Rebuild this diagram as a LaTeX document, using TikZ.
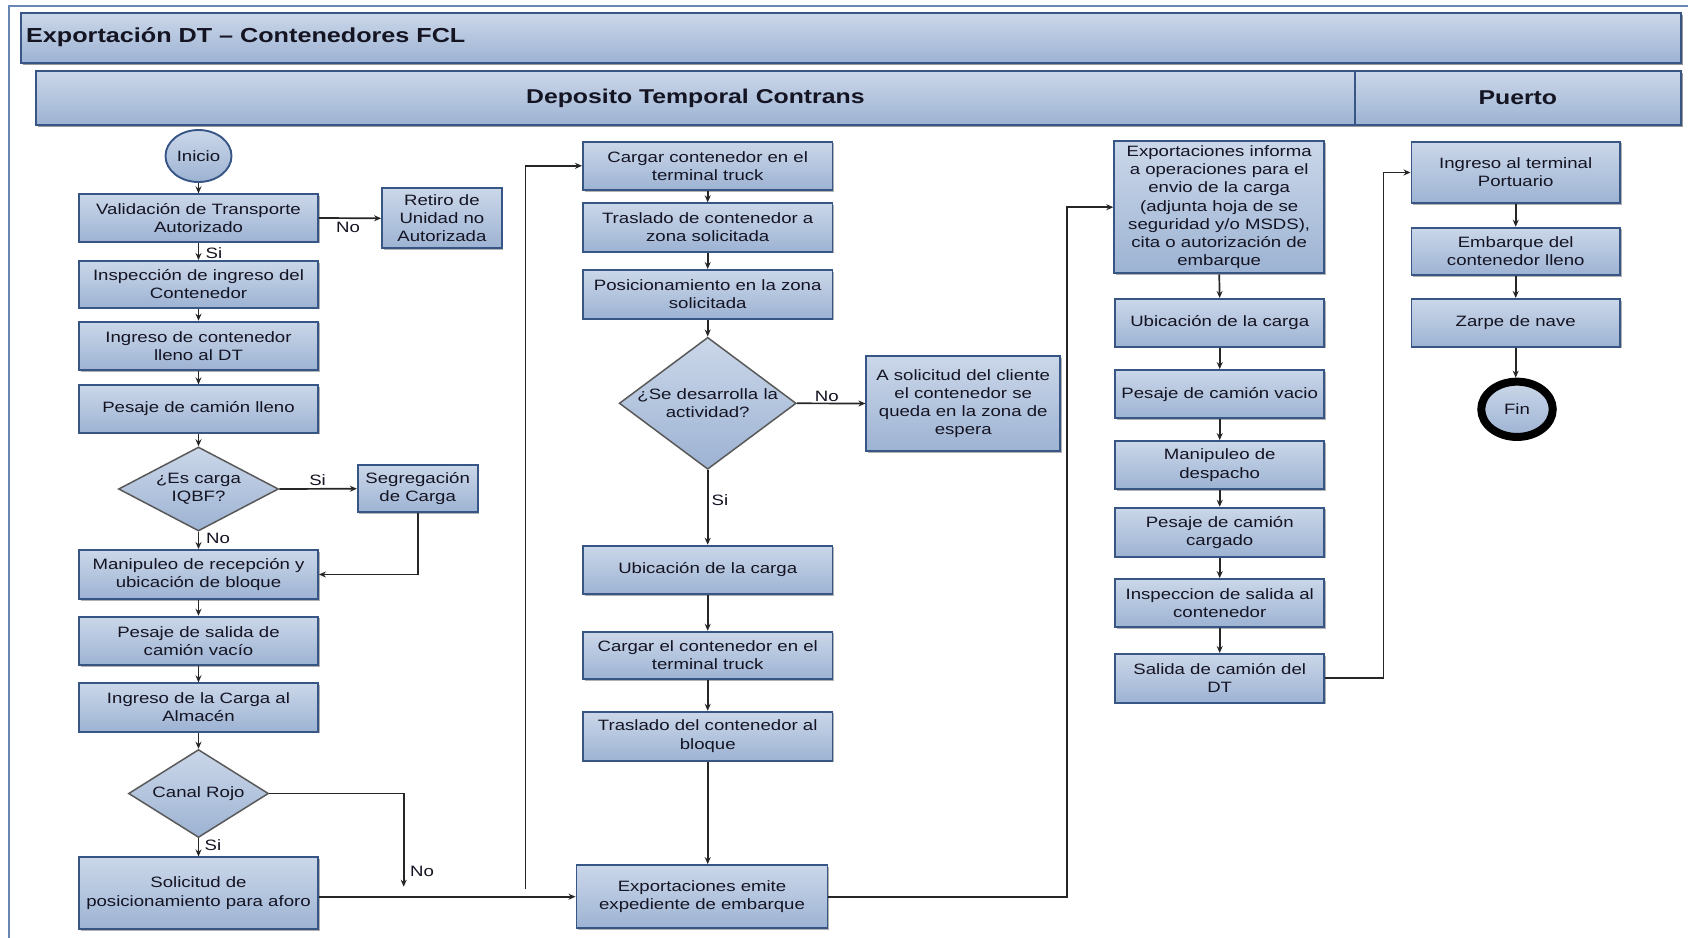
\documentclass[tikz,border=0pt]{standalone}
\usepackage{fontspec}
\setmainfont{Liberation Sans}[FakeStretch=1.24]
\usetikzlibrary{shapes.geometric,arrows.meta,shadows,calc}

\definecolor{boxtop}{RGB}{203,215,233}
\definecolor{boxbot}{RGB}{157,179,211}
\definecolor{boxline}{RGB}{55,86,134}
\definecolor{frameline}{RGB}{105,135,180}
\definecolor{ink}{RGB}{20,20,35}

\tikzset{
  shadebox/.style={top color=boxtop, bottom color=boxbot, draw=boxline, line width=1.9pt},
  bodyfont/.style={font=\fontsize{15}{18.2}\selectfont, text=ink},
  proc/.style={shadebox, rectangle, inner sep=2pt, align=center, bodyfont,
    drop shadow={shadow xshift=1.6pt, shadow yshift=-1.6pt, fill=black, opacity=0.3}},
  band/.style={shadebox, rectangle, line width=2pt, inner sep=0pt,
    font=\bfseries\fontsize{20}{24}\selectfont, text=ink,
    drop shadow={shadow xshift=1.8pt, shadow yshift=-1.8pt, fill=black, opacity=0.4}},
  decision/.style={shadebox, diamond, inner sep=0pt, line width=1.5pt, draw=black!65},
  terminal/.style={shadebox, ellipse, inner sep=0pt, bodyfont},
  flow/.style={draw=black!85, line width=1.7pt, -{Stealth[length=7pt,width=6pt]}},
  tag/.style={bodyfont, inner sep=0pt},
}

\begin{document}
\begin{tikzpicture}[x=1pt,y=-1pt]
\useasboundingbox (0,0) rectangle (1688,937);
\fill[white] (0,0) rectangle (1688,937);
\draw[frameline, line width=1.4pt] (9,6) rectangle (1720,970);

% title and lane headers
\node[band, minimum width=1660pt, minimum height=49.4pt, anchor=north west] (title) at (20,12.3) {};
\node[anchor=west, inner sep=0pt, font=\bfseries\fontsize{20.3}{24}\selectfont, text=ink] (titletext) at (26,37) {Exportación DT – Contenedores FCL};
\node[band, minimum width=1318.7pt, minimum height=54pt, anchor=north west] (dtlane) at (35,70) {Deposito Temporal Contrans};
\node[band, minimum width=326.3pt, minimum height=54pt, anchor=north west] (portlane) at (1353.7,70) {Puerto};

% column 1
\node[terminal, minimum width=66pt, minimum height=52pt] (inicio) at (198.5,156) {Inicio};
\node[proc, minimum width=239pt, minimum height=47.4pt] (val) at (198.5,218) {Validación de Transporte\\Autorizado};
\node[proc, minimum width=119.7pt, minimum height=60pt] (retiro) at (441.9,218.3) {Retiro de\\Unidad no\\Autorizada};
\node[proc, minimum width=239pt, minimum height=46.7pt] (insp) at (198.5,284.3) {Inspección de ingreso del\\Contenedor};
\node[proc, minimum width=239pt, minimum height=48.3pt] (ingc) at (198.5,345.8) {Ingreso de contenedor\\lleno al DT};
\node[proc, minimum width=239pt, minimum height=47.4pt] (pesl) at (198.5,409) {Pesaje de camión lleno};
\node[decision, minimum width=160pt, minimum height=84pt,
  label={[align=center, bodyfont]center:¿Es carga\\IQBF?}] (iqbf) at (198.5,489) {};
\node[proc, minimum width=119.8pt, minimum height=47.3pt] (seg) at (417.7,488.7) {Segregación\\de Carga};
\node[proc, minimum width=239pt, minimum height=49pt] (manip) at (198.5,574.5) {Manipuleo de recepción y\\ubicación de bloque};
\node[proc, minimum width=239pt, minimum height=48.6pt] (pess) at (198.5,641) {Pesaje de salida de\\camión vacío};
\node[proc, minimum width=239pt, minimum height=48.4pt] (ingal) at (198.5,707.5) {Ingreso de la Carga al\\Almacén};
\node[decision, minimum width=140pt, minimum height=88pt,
  label={[bodyfont]center:Canal Rojo}] (rojo) at (198.5,793.5) {};
\node[proc, minimum width=239pt, minimum height=71.7pt] (sol) at (198.5,893.2) {Solicitud de\\posicionamiento para aforo};

% column 2
\node[proc, minimum width=249.5pt, minimum height=48.3pt] (carg1) at (707.7,165.8) {Cargar contenedor en el\\terminal truck};
\node[proc, minimum width=249.5pt, minimum height=48.4pt] (tras1) at (707.7,227.5) {Traslado de contenedor a\\zona solicitada};
\node[proc, minimum width=249.5pt, minimum height=48.7pt] (pos) at (707.7,294.3) {Posicionamiento en la zona\\solicitada};
\node[decision, minimum width=177pt, minimum height=132pt,
  label={[align=center, bodyfont]center:¿Se desarrolla la\\actividad?}] (activ) at (707.7,403.3) {};
\node[proc, minimum width=193.6pt, minimum height=95pt] (asol) at (963.2,403.5) {A solicitud del cliente\\el contenedor se\\queda en la zona de\\espera};
\node[proc, minimum width=249.5pt, minimum height=48.3pt] (ubic1) at (707.7,569.8) {Ubicación de la carga};
\node[proc, minimum width=249.5pt, minimum height=47.6pt] (carg2) at (707.7,655.5) {Cargar el contenedor en el\\terminal truck};
\node[proc, minimum width=249.5pt, minimum height=49pt] (tras2) at (707.7,736.2) {Traslado del contenedor al\\bloque};
\node[proc, minimum width=251pt, minimum height=63.3pt] (expe) at (702,896.7) {Exportaciones emite\\expediente de embarque};

% column 3
\node[proc, minimum width=210pt, minimum height=132.3pt] (expi) at (1219.2,207.2) {Exportaciones informa\\a operaciones para el\\envio de la carga\\(adjunta hoja de se\\seguridad y/o MSDS),\\cita o autorización de\\embarque};
\node[proc, minimum width=209pt, minimum height=47.7pt] (ubic2) at (1219.7,322.8) {Ubicación de la carga};
\node[proc, minimum width=209pt, minimum height=48.3pt] (pesv) at (1219.7,394.2) {Pesaje de camión vacio};
\node[proc, minimum width=209pt, minimum height=48.3pt] (mand) at (1219.7,465.2) {Manipuleo de\\despacho};
\node[proc, minimum width=209pt, minimum height=49pt] (pesc) at (1219.7,532.2) {Pesaje de camión\\cargado};
\node[proc, minimum width=209pt, minimum height=48.3pt] (insps) at (1219.7,603.2) {Inspeccion de salida al\\contenedor};
\node[proc, minimum width=209pt, minimum height=48.7pt] (sald) at (1219.7,678.3) {Salida de camión del\\DT};

% column 4
\node[proc, minimum width=208.5pt, minimum height=61.6pt] (ingt) at (1515.7,172.5) {Ingreso al terminal\\Portuario};
\node[proc, minimum width=208.5pt, minimum height=47.3pt] (emb) at (1515.7,251.3) {Embarque del\\contenedor lleno};
\node[proc, minimum width=208.5pt, minimum height=47.7pt] (zarpe) at (1515.7,322.8) {Zarpe de nave};
\node[terminal, draw=black, line width=8pt, minimum width=71.5pt, minimum height=55.3pt] (fin) at (1517,409.3) {Fin};

% free ends and bends
\coordinate (noend) at (403.7,886.7);
\coordinate (loopA) at (525.5,889.3);
\coordinate (bendB) at (1067,500);
\coordinate (bendC) at (1383.6,400);

% connectors, column 1
\draw[flow] (inicio.south) -- (val.north);
\draw[flow] (val.east) -- (retiro.west);
\draw[flow] (val.south) -- (insp.north);
\draw[flow] (insp.south) -- (ingc.north);
\draw[flow] (ingc.south) -- (pesl.north);
\draw[flow] (pesl.south) -- (iqbf.north);
\draw[flow] (iqbf.east) -- (seg.west);
\draw[flow] (iqbf.south) -- (manip.north);
\draw[flow] (seg.south) |- (manip.east);
\draw[flow] (manip.south) -- (pess.north);
\draw[flow] (pess.south) -- (ingal.north);
\draw[flow] (ingal.south) -- (rojo.north);
\draw[flow] (rojo.south) -- (sol.north);
\draw[flow] (rojo.east) -| (noend);
\draw[flow] (sol.east |- expe.west) -- (expe.west);
\draw[flow] (loopA) |- (carg1.west);

% connectors, column 2
\draw[flow] (carg1.south) -- (tras1.north);
\draw[flow] (tras1.south) -- (pos.north);
\draw[flow] (pos.south) -- (activ.north);
\draw[flow] (activ.east) -- (asol.west);
\draw[flow] (activ.south) -- (ubic1.north);
\draw[flow] (ubic1.south) -- (carg2.north);
\draw[flow] (carg2.south) -- (tras2.north);
\draw[flow] (tras2.south) -- (tras2.south |- expe.north);
\draw[flow] (expe.east) -| (bendB) |- (expi.west);

% connectors, column 3
\draw[flow] (expi.south) -- (ubic2.north);
\draw[flow] (ubic2.south) -- (pesv.north);
\draw[flow] (pesv.south) -- (mand.north);
\draw[flow] (mand.south) -- (pesc.north);
\draw[flow] (pesc.south) -- (insps.north);
\draw[flow] (insps.south) -- (sald.north);
\draw[flow] (sald.east) -| (bendC) |- (ingt.west);

% connectors, column 4
\draw[flow] (ingt.south) -- (emb.north);
\draw[flow] (emb.south) -- (zarpe.north);
\draw[flow] (zarpe.south) -- (zarpe.south |- fin.north);

% branch labels
\node[tag] (tagNo1) at (348,227) {No};
\node[tag] (tagSi1) at (214,253) {Si};
\node[tag] (tagSi2) at (317.6,480) {Si};
\node[tag] (tagNo2) at (218,538.3) {No};
\node[tag] (tagSi3) at (213,845) {Si};
\node[tag] (tagNo3) at (422,871) {No};
\node[tag] (tagNo4) at (826.7,396) {No};
\node[tag] (tagSi4) at (720,500) {Si};
\end{tikzpicture}
\end{document}
